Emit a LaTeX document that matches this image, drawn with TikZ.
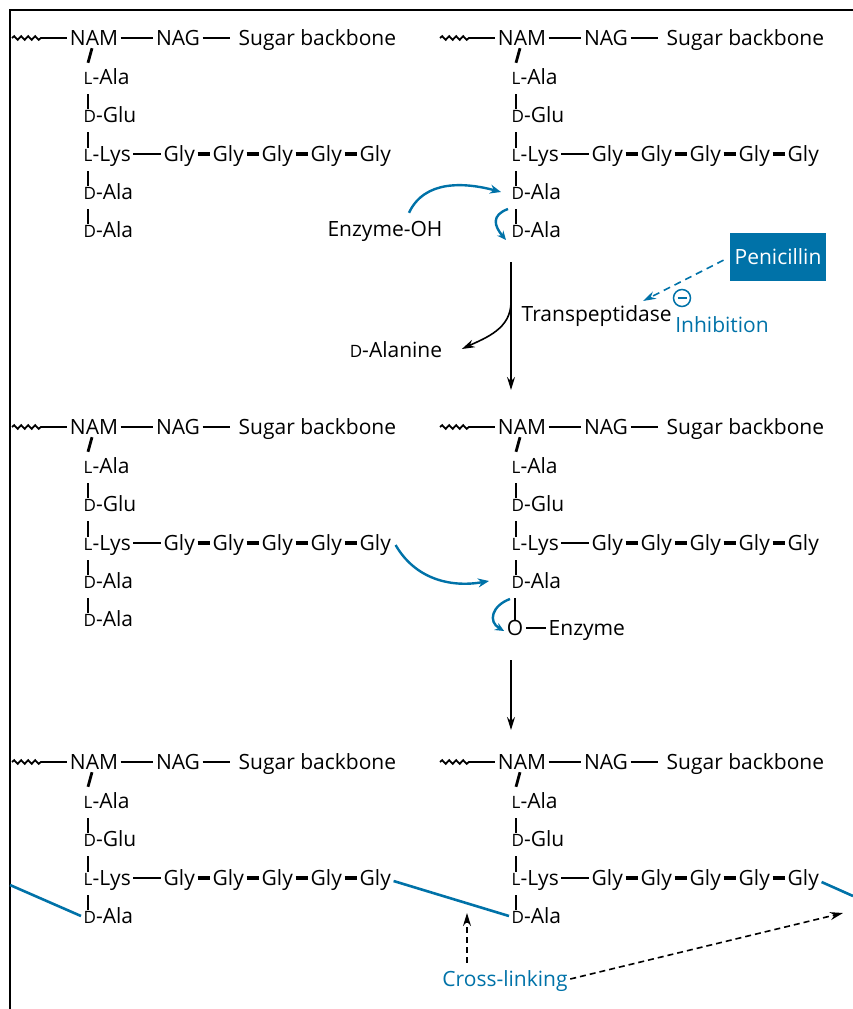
\documentclass[tikz,border=0pt]{standalone}
\usepackage{fontspec}
\setmainfont{Open Sans}
\usetikzlibrary{arrows.meta,decorations.pathmorphing}
\definecolor{pgblue}{RGB}{0,114,168}
\newcommand\smc[1]{{\fontsize{17pt}{17pt}\selectfont #1}}

\begin{document}
\begin{tikzpicture}[x=1pt,y=1pt,
  txt/.style={font=\fontsize{21pt}{25pt}\selectfont, inner sep=2.5pt, text height=15pt, text depth=0pt},
  bond/.style={line width=2.8pt},
  glybond/.style={line width=3.4pt},
  bar/.style={line width=2.8pt, shorten <=17pt, shorten >=6pt},
  wave/.style={line width=1.8pt, decorate, decoration={snake, amplitude=1.8pt, segment length=7pt}},
  xlink/.style={pgblue, line width=2.6pt},
  blarr/.style={pgblue, line width=2.4pt, -{Stealth[length=11pt,width=9pt]}},
  mainarr/.style={line width=1.6pt, -{Stealth[length=13pt,width=8pt]}},
  dasharr/.style={line width=1.6pt, dash pattern=on 6pt off 4pt, -{Stealth[length=13pt,width=8pt]}},
]
\useasboundingbox (0,0) rectangle (853,-1009);

% frame
\draw[line width=2.5pt] (853,-10) -- (10,-10) -- (10,-1009);

% peptidoglycan units
\foreach \bx/\by/\un in {94/38/a, 522/38/b, 94/427/c, 522/427/d, 94/762/e, 522/762/f} {
  \begin{scope}[shift={(\bx,-\by)}]
    % sugars
    \coordinate (\un-w0) at (-82,0);
    \coordinate (\un-w1) at (-50,0);
    \node[txt] (\un-nam) at (0,0) {NAM};
    \node[txt] (\un-nag) at (84,0) {NAG};
    \node[txt, anchor=west] (\un-sug) at (142,0) {Sugar backbone};
    \draw[wave] (\un-w0) -- (\un-w1);
    \draw[bond] (\un-w1) -- (\un-nam);
    \draw[bond] (\un-nam) -- (\un-nag);
    \draw[bond, shorten >=6pt] (\un-nag) -- (\un-sug);
    % peptide
    \node[txt, anchor=west] (\un-r1) at (-13,-39) {\smc{L}-Ala};
    \node[txt, anchor=west] (\un-r2) at (-13,-77) {\smc{D}-Glu};
    \node[txt, anchor=west] (\un-r3) at (-13,-116) {\smc{L}-Lys};
    \node[txt, anchor=west] (\un-r4) at (-13,-154) {\smc{D}-Ala};
    \draw[bond] ([xshift=-2pt]\un-nam.south) -- ([xshift=7pt,yshift=4pt]\un-r1.north west);
    \foreach \i [remember=\i as \k (initially 1)] in {2,3,4}
      \draw[bar] ([xshift=7pt]\un-r\k.west) -- ([xshift=7pt]\un-r\i.west);
    % pentaglycine
    \foreach \i in {1,...,5}
      \node[txt, anchor=west] (\un-g\i) at ({18+49*\i},-116) {Gly};
    \draw[bond] (\un-r3) -- (\un-g1);
    \foreach \i [remember=\i as \k (initially 1)] in {2,...,5}
      \draw[glybond] (\un-g\k) -- (\un-g\i);
  \end{scope}
}

% terminal D-Ala
\foreach \un/\bx/\by in {a/94/38, b/522/38, c/94/427} {
  \node[txt, anchor=west] (\un-r5) at ({\bx-13},{-\by-192}) {\smc{D}-Ala};
  \draw[bar] ([xshift=7pt]\un-r4.west) -- ([xshift=7pt]\un-r5.west);
}

% acyl enzyme
\node[txt] (d-o) at (515,-628) {O};
\node[txt, anchor=west] (d-enz) at (546,-628) {Enzyme};
\draw[bond] (d-o) -- (d-enz);
\draw[bond, shorten <=17pt, shorten >=-2pt] (d-o.north |- d-r4.west) -- (d-o.north);

% step 1
\node[txt] (enzoh) at (385,-229) {Enzyme-OH};
\draw[blarr] ([xshift=24pt,yshift=6pt]enzoh.north) to[out=65,in=165] ([xshift=-8pt]b-r4.west);
\draw[blarr, -{Stealth[length=9pt,width=8pt]}] ([xshift=-1pt,yshift=-17pt]b-r4.west)
  to[out=200,in=130,looseness=1.5] ([xshift=-3pt,yshift=-10pt]b-r5.west);

\coordinate (s1a) at (511,-262);
\coordinate (s1b) at (511,-390);
\coordinate (dalfork) at (511,-302);
\draw[mainarr] (s1a) -- (s1b);
\node[txt] (dal) at (396,-350) {\smc{D}-Alanine};
\draw[mainarr] (dalfork) to[out=-90,in=25] ([xshift=17pt,yshift=1pt]dal.east);
\node[txt, anchor=west] (tp) at (519,-314) {Transpeptidase};

% penicillin
\node[txt, fill=pgblue, text=white, minimum width=96pt, minimum height=48pt] (pen) at (778,-257) {Penicillin};
\coordinate (pentip) at (643,-301);
\draw[dasharr, pgblue, dash pattern=on 7pt off 5pt, shorten <=7pt] (pen.west) -- (pentip);
\node[circle, draw=pgblue, line width=1.5pt, minimum size=17pt, inner sep=0pt] (inh) at (682,-298) {};
\draw[pgblue, line width=1.5pt] ([xshift=-4.5pt]inh.center) -- ([xshift=4.5pt]inh.center);
\node[txt, text=pgblue] (inhtxt) at (722,-325) {Inhibition};

% step 2
\draw[blarr] ([xshift=2pt,yshift=-2pt]c-g5.east) to[out=-60,in=190] ([xshift=-20pt]d-r4.west);
\draw[blarr, -{Stealth[length=9pt,width=8pt]}] ([xshift=1pt,yshift=-18pt]d-r4.west)
  to[out=200,in=150,looseness=1.5] ([yshift=-3pt]d-o.west);
\coordinate (s2a) at (511,-660);
\coordinate (s2b) at (511,-730);
\draw[mainarr] (s2a) -- (s2b);

% cross-links
\coordinate (xl0) at (10,-885);
\coordinate (xl1) at (853,-896);
\draw[xlink] (xl0) -- (e-r4.west);
\draw[xlink] ([yshift=-3pt]e-g5.east) -- (f-r4.west);
\draw[xlink] ([yshift=-4pt]f-g5.east) -- (xl1);

\node[txt, text=pgblue] (xlab) at (505,-979) {Cross-linking};
\coordinate (xup) at (467,-913);
\coordinate (xright) at (843,-913);
\draw[dasharr, shorten <=6pt] (xlab.north -| xup) -- (xup);
\draw[dasharr] (xlab.east) -- (xright);
\end{tikzpicture}
\end{document}
